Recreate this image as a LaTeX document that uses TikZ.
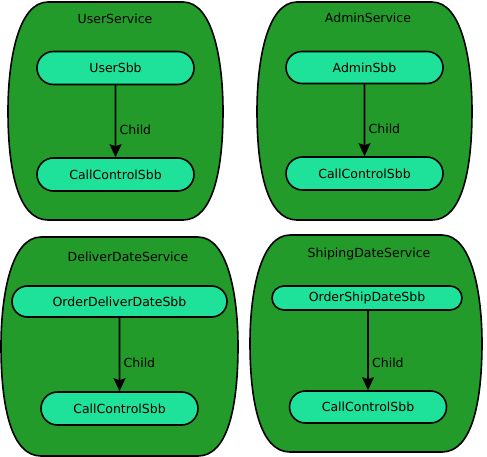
\documentclass[tikz,border=0pt]{standalone}
\usepackage{fontspec}
\setmainfont{DejaVu Sans}
\usetikzlibrary{arrows.meta,shapes.misc}
\definecolor{servicegreen}{RGB}{34,155,42}
\definecolor{sbbgreen}{RGB}{31,226,154}
\begin{document}
\begin{tikzpicture}[x=1pt,y=-1pt,font=\fontsize{12.5}{15}\selectfont,
  service/.style={draw,fill=servicegreen,line width=1.6pt},
  sbb/.style={draw,fill=sbbgreen,rounded rectangle,line width=1.6pt,inner sep=0pt,minimum width=157pt,minimum height=33pt},
  child/.style={draw,line width=1.6pt,-{Stealth[length=13pt,width=12pt,inset=2pt]}}]
\useasboundingbox (0,0) rectangle (487,457);

% services
\path[service] (48,2) -- (183,2) .. controls (213,2) and (223,61) .. (223,111)
  .. controls (223,170) and (213,220) .. (183,220) -- (48,220)
  .. controls (18,220) and (8,170) .. (8,111) .. controls (8,61) and (18,2) .. cycle;
\path[service] (297,2) -- (432,2) .. controls (462,2) and (472,61) .. (472,111)
  .. controls (472,170) and (462,220) .. (432,220) -- (297,220)
  .. controls (267,220) and (257,170) .. (257,111) .. controls (257,61) and (267,2) .. cycle;
\path[service] (41,237) -- (198,237) .. controls (228,237) and (238,296) .. (238,346)
  .. controls (238,406) and (228,456) .. (198,456) -- (41,456)
  .. controls (11,456) and (1,406) .. (1,346) .. controls (1,296) and (11,237) .. cycle;
\path[service] (290,235) -- (442,235) .. controls (472,235) and (482,294) .. (482,343)
  .. controls (482,402) and (472,452) .. (442,452) -- (290,452)
  .. controls (260,452) and (250,402) .. (250,343) .. controls (250,294) and (260,235) .. cycle;

\node (user) at (115,19) {UserService};
\node (admin) at (368,18) {AdminService};
\node (deliver) at (128,257) {DeliverDateService};
\node (ship) at (369,254) {ShipingDateService};

% sbbs
\node[sbb] (usersbb) at (115.5,68) {UserSbb};
\node[sbb] (usercall) at (115.5,174.5) {CallControlSbb};
\node[sbb,minimum height=32pt] (adminsbb) at (364.5,67.5) {AdminSbb};
\node[sbb] (admincall) at (364.5,173.5) {CallControlSbb};
\node[sbb,minimum width=215pt,minimum height=31pt] (deliversbb) at (119.5,301.5) {OrderDeliverDateSbb};
\node[sbb] (delivercall) at (119.5,408.5) {CallControlSbb};
\node[sbb,minimum width=190pt,minimum height=24pt] (shipsbb) at (367,298) {OrderShipDateSbb};
\node[sbb,minimum height=32pt] (shipcall) at (368,407) {CallControlSbb};

\path[child] (usersbb) -- node[pos=0.62,right] {Child} (usercall);
\path[child] (adminsbb) -- node[pos=0.62,right] {Child} (admincall);
\path[child] (deliversbb) -- node[pos=0.62,right] {Child} (delivercall);
\path[child] (shipsbb.south -| shipcall) -- node[pos=0.66,right] {Child} (shipcall);
\end{tikzpicture}
\end{document}
